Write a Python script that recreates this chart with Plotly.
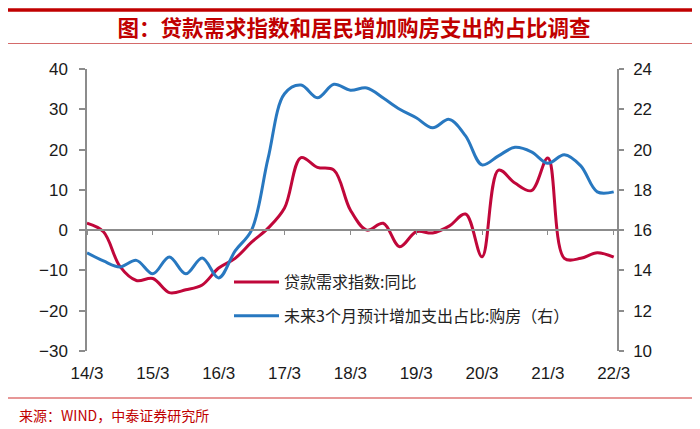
import plotly.graph_objects as go

# ---- data (quarterly, 2014Q1 .. 2022Q1) ----
quarters = [f"{y}/{m}" for y in range(14, 23) for m in (3, 6, 9, 12)][:33]
loan_demand = [1.7, -0.4, -9.0, -12.5, -12.0, -15.5, -14.8, -13.6, -9.4, -7.0,
               -3.0, 0.5, 5.5, 18.0, 15.6, 14.9, 5.0, 0.0, 1.7, -4.1,
               -0.4, -0.7, 1.0, 4.0, -6.6, 14.9, 11.7, 9.8, 17.9, -7.0,
               -7.0, -5.6, -6.7]
house_buy = [14.87, 14.47, 14.17, 14.5, 13.83, 14.67, 13.83, 14.62, 13.63, 14.97,
             16.0, 19.56, 22.77, 23.2, 22.57, 23.24, 22.95, 23.06, 22.56, 22.0,
             21.58, 21.08, 21.5, 20.68, 19.24, 19.69, 20.11, 19.89, 19.32, 19.74,
             19.19, 17.9, 17.9]
tick_labels = ["14/3", "15/3", "16/3", "17/3", "18/3", "19/3", "20/3", "21/3", "22/3"]
name_loan = "贷款需求指数:同比"
name_house = "未来3个月预计增加支出占比:购房（右）"
title_text = "图：贷款需求指数和居民增加购房支出的占比调查"
source_text = "来源：WIND，中泰证券研究所"

# ---- layout geometry ----
# the page body has an 8px default margin, so the figure is drawn 8px smaller
# and every position below is given in page pixels then shifted by OFF.
OFF = 8
W, H = 700 - OFF, 429 - OFF
PLOT_L, PLOT_R, PLOT_T, PLOT_B = 87, 617, 69, 351   # page pixels
L = PLOT_L - OFF
T = PLOT_T - OFF
R = W - (PLOT_R - OFF)
B = H - (PLOT_B - OFF)
PW, PH = W - L - R, H - T - B
def px_x(x):
    return (x - OFF - L) / PW
def px_y(y):
    return (H - B - (y - OFF)) / PH

RED = "#C0073A"
BLUE = "#2878C0"
GRAY = "#8C8C8C"
TXT_RED = "#C00000"
NUM_FONT = dict(family="Liberation Sans, Arial", size=17, color="#1a1a1a")
CJK = "Noto Sans CJK SC"

x_idx = list(range(len(quarters)))
tickvals = [quarters.index(t) for t in tick_labels]
y_rng = [-30, 40]
y2_rng = [10, 24]
x_rng = [0, 32.2]

fig = go.Figure()
fig.add_trace(go.Scatter(x=x_idx, y=loan_demand, name=name_loan, mode="lines",
                         line=dict(color=RED, width=3, shape="spline", smoothing=1.0),
                         xaxis="x", yaxis="y", legendgroup="a"))
fig.add_trace(go.Scatter(x=x_idx, y=house_buy, name=name_house, mode="lines",
                         line=dict(color=BLUE, width=3, shape="spline", smoothing=1.0),
                         xaxis="x2", yaxis="y2", legendgroup="b"))

zero_pos = (0 - y_rng[0]) / (y_rng[1] - y_rng[0])

fig.update_layout(
    width=W, height=H,
    margin=dict(l=L, r=R, t=T, b=B),
    paper_bgcolor="white", plot_bgcolor="white",
    showlegend=True,
    xaxis=dict(range=x_rng, tickvals=tickvals, ticktext=tick_labels,
               showline=False, showgrid=False, zeroline=False,
               ticks="outside", ticklen=7, tickcolor="rgba(0,0,0,0)",
               tickfont=NUM_FONT),
    xaxis2=dict(range=x_rng, overlaying="x", anchor="free", position=zero_pos,
                tickvals=tickvals, showticklabels=False,
                showline=True, linecolor=GRAY, linewidth=1.5,
                ticks="outside", ticklen=4, tickcolor=GRAY, tickwidth=1.2,
                showgrid=False, zeroline=False),
    yaxis=dict(range=y_rng, dtick=10, showline=True, linecolor=GRAY, linewidth=1.5,
               ticks="outside", ticklen=6, tickcolor=GRAY, tickwidth=1.5,
               showgrid=False, zeroline=False, tickfont=NUM_FONT,
               ticklabelstandoff=8),
    yaxis2=dict(range=y2_rng, dtick=2, overlaying="y", side="right", anchor="x",
                showline=True, linecolor=GRAY, linewidth=1.5,
                ticks="outside", ticklen=5, tickcolor=GRAY, tickwidth=1.5,
                showgrid=False, zeroline=False, tickfont=NUM_FONT,
                ticklabelstandoff=6),
    legend=dict(x=px_x(229), y=px_y(265), xanchor="left", yanchor="top",
                bgcolor="rgba(0,0,0,0)", traceorder="grouped", tracegroupgap=10,
                itemwidth=45,
                font=dict(family=CJK, size=16, color="#222222")),
    title=dict(text=title_text, x=0.5, xref="container", xanchor="center",
               y=1 - (28 - OFF) / H, yref="container", yanchor="middle",
               font=dict(family=CJK, size=21.5, color=TXT_RED, weight="bold")),
)

fig.add_annotation(text=source_text, xref="paper", yref="paper",
                   x=px_x(17), y=px_y(415), xanchor="left", yanchor="middle",
                   showarrow=False, font=dict(family=CJK, size=14, color=TXT_RED))

fig.add_shape(type="line", xref="paper", yref="paper",
              x0=px_x(8), x1=px_x(695), y0=px_y(10), y1=px_y(10),
              line=dict(color=TXT_RED, width=3.5))
fig.add_shape(type="line", xref="paper", yref="paper",
              x0=px_x(8), x1=px_x(695), y0=px_y(43.5), y1=px_y(43.5),
              line=dict(color="#D46A6A", width=1))
fig.add_shape(type="line", xref="paper", yref="paper",
              x0=px_x(8), x1=px_x(695), y0=px_y(398), y1=px_y(398),
              line=dict(color="#D03030", width=1.2))

fig.write_html("out.html")
